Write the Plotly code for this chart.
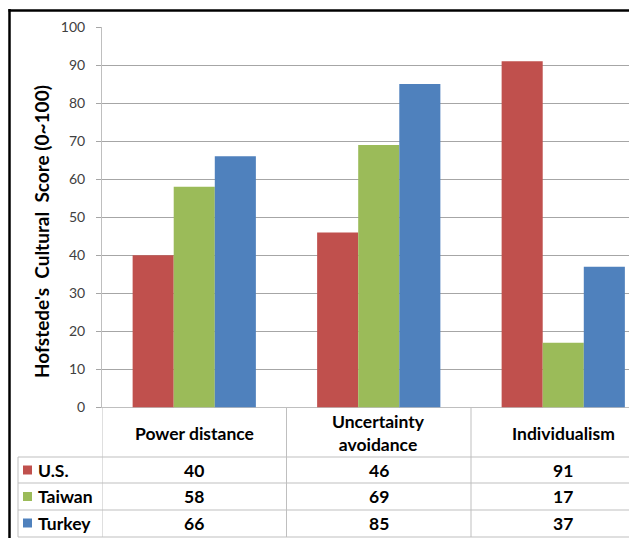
import plotly.graph_objects as go

categories = ["Power distance", "Uncertainty avoidance", "Individualism"]
category_labels = ["Power distance", "Uncertainty<br>avoidance", "Individualism"]
series_names = ["U.S.", "Taiwan", "Turkey"]
us_values = [40, 46, 91]
taiwan_values = [58, 69, 17]
turkey_values = [66, 85, 37]
y_ticks = [0, 10, 20, 30, 40, 50, 60, 70, 80, 90, 100]
y_title = "Hofstede's\u00a0\u00a0Cultural\u00a0\u00a0Score\u00a0(0~100)"

colors = ["#C0504D", "#9BBB59", "#4F81BD"]
all_values = [us_values, taiwan_values, turkey_values]

# the page body adds an 8px margin; the figure is sized so it fills the window exactly
OFF = 8
WIN_W, WIN_H = 637, 538
W, H = WIN_W - OFF, WIN_H - OFF
def px(x):
    return (x - OFF) / W
def py(y):
    return 1 - (y - OFF) / H

FONT = "Lato, Carlito, Calibri, sans-serif"
GRID = "#A6A6A6"
TABLE_LINE = "#BFBFBF"
TXT = 17.5
CAT_W = 184.5   # pixel width of one category column
AXIS_X = 102

fig = go.Figure()
for name, vals, c in zip(series_names, all_values, colors):
    fig.add_trace(go.Bar(
        x=list(range(len(categories))), y=vals, name=name,
        marker=dict(color=c, line=dict(width=0)),
        showlegend=False, hoverinfo="y+name",
    ))

shapes = []
annotations = []

# black outer frame
shapes.append(dict(type="line", xref="paper", yref="paper", x0=px(9.5), x1=px(9.5), y0=py(9), y1=py(545),
                   line=dict(color="black", width=2.5)))
shapes.append(dict(type="line", xref="paper", yref="paper", x0=px(8.5), x1=px(645), y0=py(10.5), y1=py(10.5),
                   line=dict(color="black", width=2.5)))

# table lines
row_lines = [457, 483, 510, 537]
for yy in row_lines:
    shapes.append(dict(type="line", xref="paper", yref="paper", x0=px(18), x1=px(645), y0=py(yy), y1=py(yy),
                       line=dict(color=TABLE_LINE, width=1)))
for xb in [-0.5, 0.5, 1.5]:
    shapes.append(dict(type="line", xref="x", yref="paper", x0=xb, x1=xb, y0=py(407), y1=py(537),
                       line=dict(color=TABLE_LINE, width=1)))
shapes.append(dict(type="line", xref="paper", yref="paper", x0=px(18), x1=px(18), y0=py(457), y1=py(537),
                   line=dict(color=TABLE_LINE, width=1)))

# category header texts
for i, lab in enumerate(category_labels):
    annotations.append(dict(x=i, xref="x", y=py(433), yref="paper", text=lab, showarrow=False,
                            xanchor="center", yanchor="middle",
                            font=dict(family=FONT, size=TXT, color="black", weight="bold")))

row_centers = [470, 496.5, 523]
for r, (name, vals, c) in enumerate(zip(series_names, all_values, colors)):
    shapes.append(dict(type="rect", xref="paper", yref="paper",
                       x0=px(23), x1=px(32), y0=py(row_centers[r] - 4.5), y1=py(row_centers[r] + 4.5),
                       fillcolor=c, line=dict(width=0)))
    annotations.append(dict(x=px(35.5), xref="paper", y=py(row_centers[r]), yref="paper",
                            text=name, showarrow=False,
                            xanchor="left", yanchor="middle",
                            font=dict(family=FONT, size=TXT, color="black", weight="bold")))
    for i, v in enumerate(vals):
        annotations.append(dict(x=i, xref="x", y=py(row_centers[r]), yref="paper", text=str(v),
                                showarrow=False, xanchor="center", yanchor="middle",
                                font=dict(family=FONT, size=TXT, color="black", weight="bold")))

# y-axis title
annotations.append(dict(x=px(41), xref="paper", y=py(232), yref="paper", text=y_title, textangle=-90,
                        showarrow=False, xanchor="center", yanchor="middle",
                        font=dict(family=FONT, size=19, color="black", weight="bold")))

fig.update_layout(
    template="none",
    width=W, height=H, autosize=False,
    margin=dict(l=0, r=0, t=0, b=0, pad=0),
    paper_bgcolor="white", plot_bgcolor="white",
    barmode="group", bargap=0.332, bargroupgap=0,
    showlegend=False,
    shapes=shapes, annotations=annotations,
    xaxis=dict(domain=[px(AXIS_X), 1], range=[-0.5, -0.5 + (WIN_W - AXIS_X) / CAT_W], automargin=False,
               showticklabels=False, showgrid=False, zeroline=False, showline=False,
               ticks="", fixedrange=True),
    yaxis=dict(domain=[py(407.5), py(27)], range=[0, 100], tickvals=y_ticks, automargin=False,
               showgrid=True, gridcolor=GRID, gridwidth=1,
               zeroline=True, zerolinecolor=TABLE_LINE, zerolinewidth=1,
               showline=True, linecolor=TABLE_LINE, linewidth=1,
               ticks="outside", ticklen=5, tickcolor=GRID,
               ticklabelstandoff=8,
               tickfont=dict(family=FONT, size=14, color="#404040"), fixedrange=True),
    font=dict(family=FONT),
)

fig.write_html("out.html")
